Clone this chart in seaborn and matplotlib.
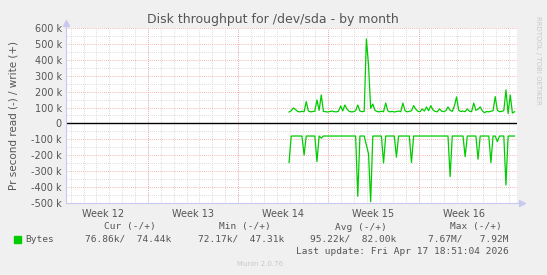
import matplotlib
matplotlib.use("Agg")
import matplotlib.pyplot as plt
import seaborn as sns
import pandas as pd
import numpy as np

# ---- data (values in bytes/s, thousands) ----
start_day = 17.31          # first sample, days from left edge of graph
step_day = 1.0 / 6.0       # 4-hour samples

write_k = [72, 80, 97, 88, 75, 73, 76, 74, 137, 78,
           73, 75, 77, 148, 82, 179, 76, 74, 72, 75,
           78, 74, 73, 76, 110, 79, 116, 90, 76, 73,
           74, 80, 116, 78, 74, 76, 531, 368, 95, 122,
           82, 75, 73, 77, 74, 128, 79, 73, 76, 72,
           75, 78, 74, 128, 80, 73, 76, 80, 112, 90,
           76, 74, 91, 78, 104, 80, 112, 85, 76, 73,
           91, 78, 74, 80, 104, 83, 76, 110, 167, 82,
           75, 78, 74, 91, 77, 74, 128, 82, 90, 104,
           79, 68, 75, 73, 77, 80, 169, 82, 74, 76,
           80, 211, 62, 179, 65, 74]

read_k = [-246, -79, -79, -79, -79, -79, -79, -198, -79, -79,
          -79, -79, -79, -240, -79, -92, -79, -79, -79, -79,
          -79, -79, -79, -79, -79, -79, -79, -79, -79, -79,
          -79, -79, -458, -79, -79, -79, -135, -190, -492, -79,
          -79, -79, -79, -79, -248, -79, -79, -79, -79, -79,
          -212, -79, -79, -79, -79, -79, -79, -246, -79, -79,
          -79, -79, -79, -79, -79, -79, -79, -79, -79, -79,
          -79, -79, -79, -79, -79, -334, -79, -79, -79, -79,
          -79, -79, -209, -79, -79, -79, -79, -79, -225, -79,
          -79, -79, -79, -79, -246, -79, -79, -114, -79, -79,
          -79, -387, -79, -79, -79, -79]

week_labels = ["Week 12", "Week 13", "Week 14", "Week 15", "Week 16"]
week_label_days = [2.86, 9.86, 16.86, 23.86, 30.86]
week_bounds = [6.36, 13.36, 20.36, 27.36]
ytick_vals = [-500, -400, -300, -200, -100, 0, 100, 200, 300, 400, 500, 600]
ytick_labels = ["-500 k", "-400 k", "-300 k", "-200 k", "-100 k", "0",
                "100 k", "200 k", "300 k", "400 k", "500 k", "600 k"]

n = len(write_k)
days = [start_day + i * step_day for i in range(n)]
df = pd.DataFrame({"day": days, "write": write_k, "read": read_k})

GREEN = "#00cc00"
BG = "#f0f0f0"
TXT = "#555555"
AXC = "#c8c8f0"

fig = plt.figure(figsize=(5.47, 2.75), dpi=100, facecolor=BG)
ax = fig.add_axes([66 / 547, 1 - 203 / 275, 451 / 547, 175 / 275])
ax.set_facecolor("white")

ax.set_xlim(0, 35)
ax.set_ylim(-500, 600)

# grid
for d in np.arange(0.36, 35, 1.0):
    ax.axvline(d, color="#cfcfcf", lw=0.6, ls=(0, (1, 1.5)), zorder=1)
for d in week_bounds:
    ax.axvline(d, color="#f0a0a0", lw=0.6, ls=(0, (1, 1.5)), zorder=1.5)
for v in np.arange(-450, 600, 100):
    ax.axhline(v, color="#cfcfcf", lw=0.6, ls=(0, (1, 1.5)), zorder=1)
for v in ytick_vals:
    ax.axhline(v, color="#f0a0a0", lw=0.6, ls=(0, (1, 1.5)), zorder=1.5)

ax.axhline(0, color="black", lw=1.0, zorder=2)

sns.lineplot(data=df, x="day", y="write", ax=ax, color=GREEN, lw=0.9, zorder=3)
sns.lineplot(data=df, x="day", y="read", ax=ax, color=GREEN, lw=0.9, zorder=3)

ax.set_xlabel("")
ax.set_ylabel("Pr second read (-) / write (+)", color=TXT, fontsize=7.5, labelpad=9)
ax.set_yticks(ytick_vals)
ax.set_yticklabels(ytick_labels)
ax.set_xticks(week_label_days)
ax.set_xticklabels(week_labels)
ax.tick_params(axis="both", length=0, labelsize=7, labelcolor=TXT, pad=3)
ax.tick_params(axis="x", pad=4)

for s in ["top", "right"]:
    ax.spines[s].set_visible(False)
for s in ["left", "bottom"]:
    ax.spines[s].set_color(AXC)
    ax.spines[s].set_linewidth(0.8)
    ax.spines[s].set_zorder(4)
ax.spines["left"].set_bounds(-500, 620)
ax.spines["bottom"].set_bounds(0, 35.3)
ax.plot([0], [1.03], marker="^", color=AXC, ms=4, transform=ax.transAxes, clip_on=False)
ax.plot([1.01], [0], marker=">", color=AXC, ms=4, transform=ax.transAxes, clip_on=False)

fig.text(273 / 547, 1 - 19 / 275, "Disk throughput for /dev/sda - by month",
         ha="center", va="center", fontsize=9, color=TXT)

mono = dict(family="DejaVu Sans Mono", fontsize=6.8, color=TXT, va="center")
hdr_y = 1 - 227 / 275
row_y = 1 - 239 / 275
fig.text(156 / 547, hdr_y, "Cur (-/+)", ha="right", **mono)
fig.text(271 / 547, hdr_y, "Min (-/+)", ha="right", **mono)
fig.text(387 / 547, hdr_y, "Avg (-/+)", ha="right", **mono)
fig.text(502 / 547, hdr_y, "Max (-/+)", ha="right", **mono)

fig.patches.append(plt.Rectangle((14 / 547, 1 - 243 / 275), 7 / 547, 7 / 275,
                                 transform=fig.transFigure, color=GREEN, figure=fig))
fig.text(25 / 547, row_y, "Bytes", ha="left", **mono)
fig.text(171 / 547, row_y, "76.86k/  74.44k", ha="right", **mono)
fig.text(284 / 547, row_y, "72.17k/  47.31k", ha="right", **mono)
fig.text(396 / 547, row_y, "95.22k/  82.00k", ha="right", **mono)
fig.text(509 / 547, row_y, "7.67M/   7.92M", ha="right", **mono)
fig.text(509 / 547, 1 - 251 / 275, "Last update: Fri Apr 17 18:51:04 2026", ha="right", **mono)

fig.text(260 / 547, 1 - 264 / 275, "Munin 2.0.76", ha="center", va="center",
         fontsize=5, color="#c8c8c8")
fig.text(538 / 547, 1 - 60 / 275, "RRDTOOL / TOBI OETIKER", ha="center", va="center",
         rotation=270, fontsize=5, color="#c8c8c8")

fig.savefig("out.png", dpi=100, facecolor=BG)
